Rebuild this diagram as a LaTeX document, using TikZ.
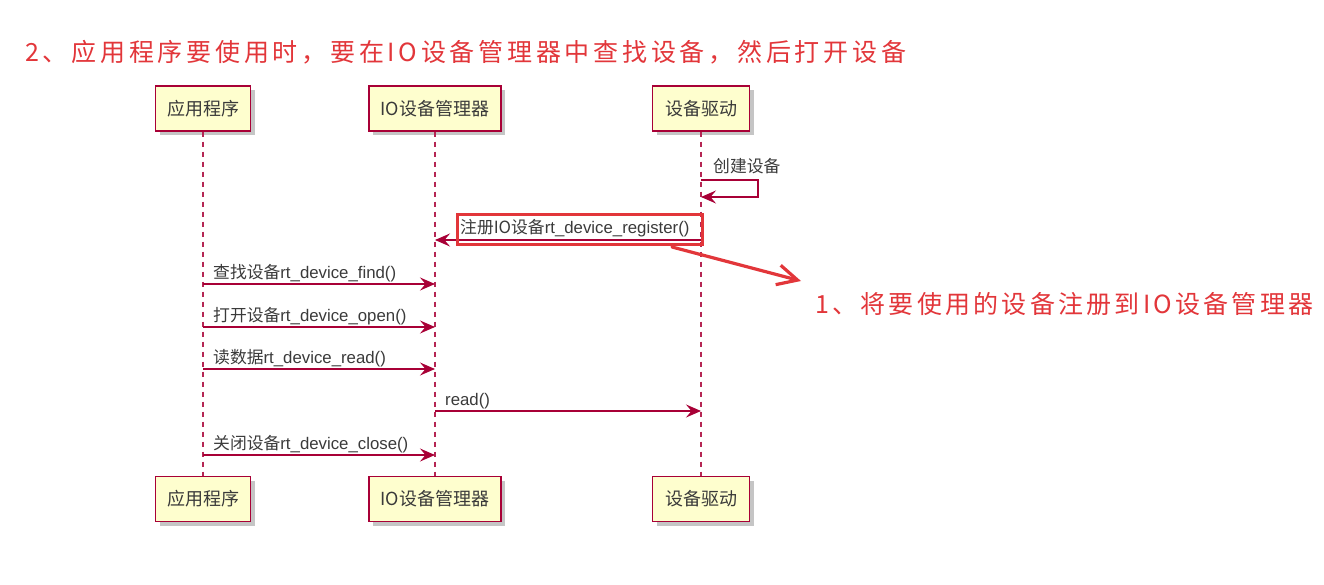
\documentclass[tikz,border=0pt]{standalone}
\usepackage{fontspec}
\setmainfont{Liberation Sans}
\newfontfamily\cjk{Noto Sans CJK SC}
\newfontfamily\cjknote[LetterSpace=13]{Noto Sans CJK SC}
\newfontfamily\cjknotew[LetterSpace=15]{Noto Sans CJK SC}
\usetikzlibrary{arrows.meta,shadows}
\definecolor{umlred}{HTML}{A80036}
\definecolor{umlfill}{HTML}{FEFECE}
\definecolor{notered}{HTML}{E2363A}
\definecolor{txt}{HTML}{3A3A3A}
\begin{document}
\begin{tikzpicture}[x=1pt,y=-1pt,
  actor/.style={draw=umlred, line width=1.3pt, fill=umlfill, minimum height=45pt,
    text=txt, font=\cjk\fontsize{18}{20}\selectfont, inner sep=0pt,
    drop shadow={shadow xshift=4pt, shadow yshift=-4pt, fill=black!45, opacity=0.5}},
  life/.style={umlred!85, line width=1.1pt, dash pattern=on 5pt off 5pt},
  msg/.style={umlred, line width=1.2pt, -{Stealth[length=15pt,width=13pt,inset=5.5pt]}},
  lbl/.style={anchor=base west, text=txt, font=\fontsize{16.8}{18}\selectfont, inner sep=0pt},
  note/.style={text=notered, font=\cjknote\fontsize{25}{30}\selectfont, anchor=west, inner sep=0pt},
  hl/.style={draw=notered, line width=3pt}]
\useasboundingbox (0,0) rectangle (1324,585);

% annotations
\node[note, font=\cjknotew\fontsize{25}{30}\selectfont] (n2) at (25,52) {2、应用程序要使用时，要在IO设备管理器中查找设备，然后打开设备};

% participants
\node[actor, minimum width=95pt] (a1) at (203,108.5) {应用程序};
\node[actor, minimum width=132pt] (m1) at (435,108.5) {IO设备管理器};
\node[actor, minimum width=97pt] (d1) at (701,108.5) {设备驱动};
\node[actor, minimum width=95pt] (a2) at (203,499) {应用程序};
\node[actor, minimum width=132pt] (m2) at (435,499) {IO设备管理器};
\node[actor, minimum width=97pt] (d2) at (701,499) {设备驱动};

% lifelines
\draw[life] (a1.south) -- (a2.north);
\draw[life] (m1.south) -- (m2.north);
\draw[life] (d1.south) -- (d2.north);

% self message
\node[lbl] (l0) at (713,173) {\cjk 创建设备};
\draw[msg] (d1 |- 0,180) -- (758,180) -- (758,197) -- (d1 |- 0,197);

% register
\node[lbl] (l1) at (460,234) {{\cjk 注册IO设备}rt\_device\_register()};
\draw[msg] (d1 |- 0,240) -- (m1 |- 0,240);
\node[hl, minimum width=245pt, minimum height=30pt] (hbox) at (579.5,229.5) {};
\coordinate (hs) at (672,247);
\node[note] (n1) at (815,304) {1、将要使用的设备注册到IO设备管理器};
\coordinate (ht) at (801,281);
\draw[notered, line width=3.2pt, line cap=round, -{Straight Barb[length=20pt,width=20pt,line width=3.2pt]}] (hs) -- (ht);

% messages
\node[lbl] (l2) at (213,278) {{\cjk 查找设备}rt\_device\_find()};
\draw[msg] (a1 |- 0,284) -- (m1 |- 0,284);
\node[lbl] (l3) at (213,321) {{\cjk 打开设备}rt\_device\_open()};
\draw[msg] (a1 |- 0,327) -- (m1 |- 0,327);
\node[lbl] (l4) at (213,363) {{\cjk 读数据}rt\_device\_read()};
\draw[msg] (a1 |- 0,369) -- (m1 |- 0,369);
\node[lbl] (l5) at (445,405) {read()};
\draw[msg] (m1 |- 0,411) -- (d1 |- 0,411);
\node[lbl] (l6) at (213,449) {{\cjk 关闭设备}rt\_device\_close()};
\draw[msg] (a1 |- 0,455) -- (m1 |- 0,455);
\end{tikzpicture}
\end{document}
